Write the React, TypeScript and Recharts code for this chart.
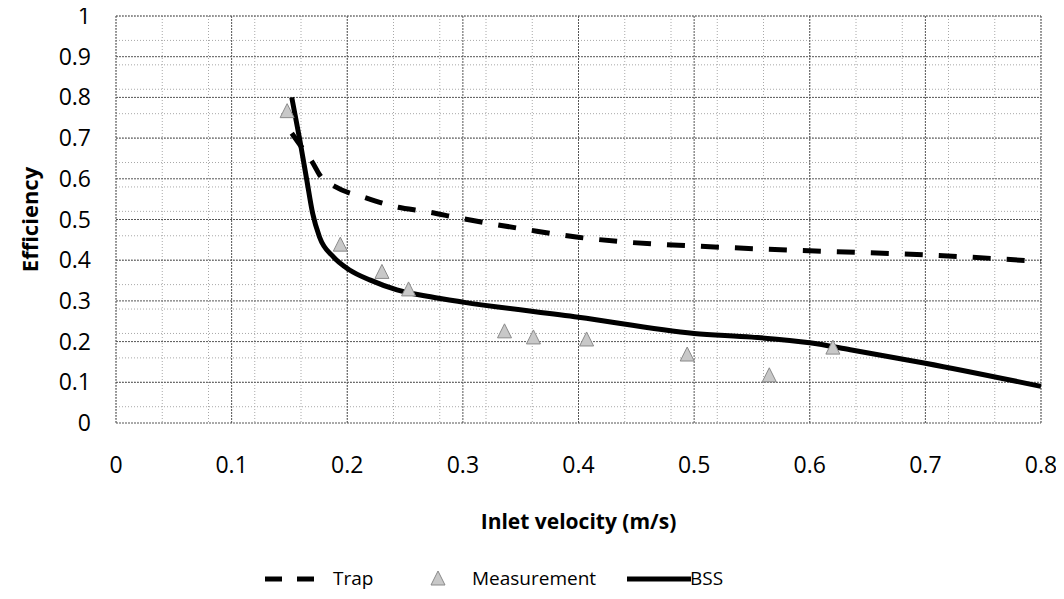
import {
  ComposedChart,
  Line,
  Scatter,
  XAxis,
  YAxis,
  CartesianGrid,
  Legend,
} from "recharts";

const trapX = [0.152, 0.16, 0.17, 0.176, 0.19, 0.214, 0.244, 0.267, 0.298, 0.358, 0.398, 0.439, 0.5, 0.563, 0.6, 0.7, 0.8];
const trapY = [0.712, 0.68, 0.64, 0.61, 0.58, 0.555, 0.53, 0.52, 0.503, 0.474, 0.457, 0.445, 0.435, 0.427, 0.423, 0.413, 0.397];

const bssX = [0.152, 0.159, 0.165, 0.17, 0.176, 0.188, 0.202, 0.22, 0.243, 0.272, 0.3, 0.4, 0.5, 0.55, 0.6, 0.635, 0.7, 0.8];
const bssY = [0.8, 0.695, 0.597, 0.516, 0.457, 0.408, 0.376, 0.351, 0.327, 0.31, 0.297, 0.26, 0.22, 0.211, 0.197, 0.18, 0.147, 0.09];

const measX = [0.148, 0.194, 0.23, 0.253, 0.336, 0.361, 0.407, 0.494, 0.565, 0.62];
const measY = [0.765, 0.437, 0.37, 0.327, 0.224, 0.209, 0.204, 0.167, 0.116, 0.184];

const xTicks = [0, 0.1, 0.2, 0.3, 0.4, 0.5, 0.6, 0.7, 0.8];
const yTicks = [0, 0.1, 0.2, 0.3, 0.4, 0.5, 0.6, 0.7, 0.8, 0.9, 1];
const xMinor = Array.from({ length: 41 }, (_, i) => +(i * 0.02).toFixed(2));
const yMinor = Array.from({ length: 51 }, (_, i) => +(i * 0.02).toFixed(2));

const trapData = trapX.map((x, i) => ({ x, y: trapY[i] }));
const bssData = bssX.map((x, i) => ({ x, y: bssY[i] }));
const measData = measX.map((x, i) => ({ x, y: measY[i] }));

const font = "'Open Sans', sans-serif";

const Triangle = (props: any) => {
  const { cx, cy } = props;
  if (cx == null || cy == null) return null;
  return (
    <path
      d={`M${cx},${cy - 8} L${cx + 7},${cy + 6} L${cx - 7},${cy + 6} Z`}
      fill="#c8c8c8"
      stroke="#8a8a8a"
      strokeWidth={1}
    />
  );
};

const XTick = ({ x, y, payload }: any) => (
  <text x={x} y={y + 50} textAnchor="middle" fontSize={23} fontFamily={font} fill="#000">
    {payload.value}
  </text>
);

const YTick = ({ x, y, payload }: any) => (
  <text x={x - 25} y={y + 8} textAnchor="end" fontSize={23} fontFamily={font} fill="#000">
    {payload.value}
  </text>
);

// legend items placed like the original (x in chart px)
const LegendBox = () => (
  <div style={{ position: "relative", height: 60, fontFamily: font, fontSize: 19, color: "#000" }}>
    <svg width={52} height={10} style={{ position: "absolute", left: 257, top: 36 }}>
      <line x1={0} y1={5} x2={52} y2={5} stroke="#000" strokeWidth={5} strokeDasharray="17 15" />
    </svg>
    <span style={{ position: "absolute", left: 325, top: 27, lineHeight: "26px" }}>Trap</span>
    <svg width={16} height={16} style={{ position: "absolute", left: 422, top: 32 }}>
      <path d="M8,1 L15,15 L1,15 Z" fill="#c8c8c8" stroke="#8a8a8a" />
    </svg>
    <span style={{ position: "absolute", left: 464, top: 27, lineHeight: "26px" }}>Measurement</span>
    <svg width={64} height={10} style={{ position: "absolute", left: 619, top: 36 }}>
      <line x1={0} y1={5} x2={64} y2={5} stroke="#000" strokeWidth={5} />
    </svg>
    <span style={{ position: "absolute", left: 682, top: 27, lineHeight: "26px" }}>BSS</span>
  </div>
);

export default function App() {
  return (
    <div style={{ marginTop: -8 }}>
      <ComposedChart
        width={1050}
        height={598}
        margin={{ top: 16, right: 17, bottom: 0, left: 0 }}
        style={{ fontFamily: font }}
      >
        <CartesianGrid
          horizontalValues={yMinor}
          verticalValues={xMinor}
          stroke="#a8a8a8"
          strokeDasharray="1 2"
        />
        <CartesianGrid
          horizontalValues={yTicks}
          verticalValues={xTicks}
          stroke="#555"
          strokeDasharray="2 1"
        />
        <XAxis
          type="number"
          dataKey="x"
          domain={[0, 0.8]}
          ticks={xTicks}
          tickSize={0}
          tickMargin={0}
          axisLine={false}
          height={115}
          tick={<XTick />}
          label={{
            value: "Inlet velocity (m/s)",
            position: "insideBottom",
            offset: 9,
            fill: "#000",
            fontSize: 21,
            fontWeight: "bold",
          }}
        />
        <YAxis
          type="number"
          dataKey="y"
          domain={[0, 1]}
          ticks={yTicks}
          tickSize={0}
          tickMargin={0}
          axisLine={false}
          width={108}
          tick={<YTick />}
          label={{
            value: "Efficiency",
            angle: -90,
            position: "insideLeft",
            offset: 22,
            fill: "#000",
            fontSize: 22,
            fontWeight: "bold",
            style: { textAnchor: "middle" },
          }}
        />
        <Legend
          verticalAlign="bottom"
          height={60}
          wrapperStyle={{ left: 0, width: 1050 }}
          content={<LegendBox />}
        />
        <Line
          data={trapData}
          dataKey="y"
          type="monotone"
          stroke="#000"
          strokeWidth={5}
          strokeDasharray="18 16"
          dot={false}
          name="Trap"
          isAnimationActive={false}
        />
        <Scatter
          data={measData}
          dataKey="y"
          name="Measurement"
          shape={<Triangle />}
          isAnimationActive={false}
        />
        <Line
          data={bssData}
          dataKey="y"
          type="monotone"
          stroke="#000"
          strokeWidth={5}
          dot={false}
          name="BSS"
          isAnimationActive={false}
        />
      </ComposedChart>
    </div>
  );
}
